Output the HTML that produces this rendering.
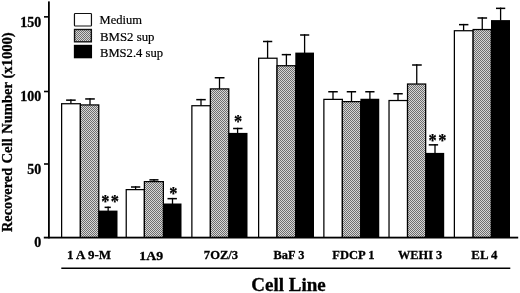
<!DOCTYPE html>
<html><head><meta charset="utf-8"><title>Cell Line</title>
<style>
html,body{margin:0;padding:0;background:#fff;}
svg{display:block;font-family:"Liberation Serif","Times New Roman",serif;}
</style></head><body>
<svg width="520" height="293" viewBox="0 0 520 293">
<defs>
<pattern id="chk" width="2" height="2" patternUnits="userSpaceOnUse">
<rect width="2" height="2" fill="#d6d6d6"/>
<rect x="0" y="0" width="1" height="1" fill="#6e6e6e"/>
<rect x="1" y="1" width="1" height="1" fill="#6e6e6e"/>
</pattern>
</defs>
<rect width="520" height="293" fill="#fff"/>

<rect x="66.10" y="99.40" width="9.60" height="1.50" fill="#000"/>
<rect x="70.25" y="99.40" width="1.30" height="4.20" fill="#000"/>
<rect x="61.00" y="103.10" width="20.00" height="134.50" fill="#000"/>
<rect x="62.25" y="104.35" width="17.50" height="133.25" fill="#fff"/>
<rect x="85.20" y="98.20" width="9.60" height="1.50" fill="#000"/>
<rect x="89.35" y="98.20" width="1.30" height="6.60" fill="#000"/>
<rect x="79.75" y="104.30" width="19.65" height="133.30" fill="#000"/>
<rect x="81.00" y="105.55" width="17.15" height="132.05" fill="url(#chk)"/>
<rect x="104.60" y="206.60" width="6.20" height="1.50" fill="#000"/>
<rect x="107.50" y="206.60" width="1.30" height="4.50" fill="#000"/>
<rect x="98.50" y="210.60" width="19.00" height="27.00" fill="#000"/>
<rect x="131.00" y="186.25" width="9.25" height="1.50" fill="#000"/>
<rect x="134.95" y="186.25" width="1.30" height="3.25" fill="#000"/>
<rect x="125.60" y="189.00" width="19.40" height="48.60" fill="#000"/>
<rect x="126.85" y="190.25" width="16.90" height="47.35" fill="#fff"/>
<rect x="149.40" y="179.10" width="9.10" height="1.50" fill="#000"/>
<rect x="153.35" y="179.10" width="1.30" height="2.40" fill="#000"/>
<rect x="143.75" y="181.00" width="20.25" height="56.60" fill="#000"/>
<rect x="145.00" y="182.25" width="17.75" height="55.35" fill="url(#chk)"/>
<rect x="167.50" y="197.90" width="9.40" height="1.50" fill="#000"/>
<rect x="171.85" y="197.90" width="1.30" height="6.10" fill="#000"/>
<rect x="163.10" y="203.50" width="18.40" height="34.10" fill="#000"/>
<rect x="196.25" y="98.90" width="9.50" height="1.50" fill="#000"/>
<rect x="200.35" y="98.90" width="1.30" height="6.70" fill="#000"/>
<rect x="191.25" y="105.10" width="19.75" height="132.50" fill="#000"/>
<rect x="192.50" y="106.35" width="17.25" height="131.25" fill="#fff"/>
<rect x="214.75" y="77.00" width="9.75" height="1.50" fill="#000"/>
<rect x="218.85" y="77.00" width="1.30" height="11.75" fill="#000"/>
<rect x="209.75" y="88.25" width="19.65" height="149.35" fill="#000"/>
<rect x="211.00" y="89.50" width="17.15" height="148.10" fill="url(#chk)"/>
<rect x="233.10" y="127.75" width="9.40" height="1.50" fill="#000"/>
<rect x="236.95" y="127.75" width="1.30" height="5.65" fill="#000"/>
<rect x="228.50" y="132.90" width="19.00" height="104.70" fill="#000"/>
<rect x="263.00" y="40.75" width="9.25" height="1.50" fill="#000"/>
<rect x="266.95" y="40.75" width="1.30" height="17.35" fill="#000"/>
<rect x="258.00" y="57.60" width="19.65" height="180.00" fill="#000"/>
<rect x="259.25" y="58.85" width="17.15" height="178.75" fill="#fff"/>
<rect x="281.75" y="53.90" width="9.25" height="1.50" fill="#000"/>
<rect x="285.75" y="53.90" width="1.30" height="11.70" fill="#000"/>
<rect x="276.40" y="65.10" width="19.80" height="172.50" fill="#000"/>
<rect x="277.65" y="66.35" width="17.30" height="171.25" fill="url(#chk)"/>
<rect x="300.10" y="34.25" width="9.15" height="1.50" fill="#000"/>
<rect x="303.95" y="34.25" width="1.30" height="18.85" fill="#000"/>
<rect x="295.30" y="52.60" width="18.70" height="185.00" fill="#000"/>
<rect x="328.25" y="91.00" width="9.50" height="1.50" fill="#000"/>
<rect x="332.35" y="91.00" width="1.30" height="8.25" fill="#000"/>
<rect x="323.25" y="98.75" width="19.75" height="138.85" fill="#000"/>
<rect x="324.50" y="100.00" width="17.25" height="137.60" fill="#fff"/>
<rect x="346.75" y="91.00" width="9.35" height="1.50" fill="#000"/>
<rect x="350.85" y="91.00" width="1.30" height="10.50" fill="#000"/>
<rect x="341.75" y="101.00" width="19.55" height="136.60" fill="#000"/>
<rect x="343.00" y="102.25" width="17.05" height="135.35" fill="url(#chk)"/>
<rect x="365.25" y="91.00" width="9.25" height="1.50" fill="#000"/>
<rect x="369.25" y="91.00" width="1.30" height="8.25" fill="#000"/>
<rect x="360.40" y="98.75" width="18.85" height="138.85" fill="#000"/>
<rect x="393.40" y="93.00" width="9.35" height="1.50" fill="#000"/>
<rect x="397.35" y="93.00" width="1.30" height="7.40" fill="#000"/>
<rect x="388.40" y="99.90" width="19.75" height="137.70" fill="#000"/>
<rect x="389.65" y="101.15" width="17.25" height="136.45" fill="#fff"/>
<rect x="412.10" y="64.25" width="9.65" height="1.50" fill="#000"/>
<rect x="416.10" y="64.25" width="1.30" height="19.65" fill="#000"/>
<rect x="406.90" y="83.40" width="19.40" height="154.20" fill="#000"/>
<rect x="408.15" y="84.65" width="16.90" height="152.95" fill="url(#chk)"/>
<rect x="428.75" y="144.10" width="9.35" height="1.50" fill="#000"/>
<rect x="434.35" y="144.10" width="1.30" height="9.30" fill="#000"/>
<rect x="425.40" y="152.90" width="18.80" height="84.70" fill="#000"/>
<rect x="459.00" y="23.90" width="9.40" height="1.50" fill="#000"/>
<rect x="462.95" y="23.90" width="1.30" height="6.70" fill="#000"/>
<rect x="453.75" y="30.10" width="20.00" height="207.50" fill="#000"/>
<rect x="455.00" y="31.35" width="17.50" height="206.25" fill="#fff"/>
<rect x="477.50" y="17.25" width="9.60" height="1.50" fill="#000"/>
<rect x="481.60" y="17.25" width="1.30" height="12.15" fill="#000"/>
<rect x="472.50" y="28.90" width="19.40" height="208.70" fill="#000"/>
<rect x="473.75" y="30.15" width="16.90" height="207.45" fill="url(#chk)"/>
<rect x="496.00" y="7.60" width="9.25" height="1.50" fill="#000"/>
<rect x="499.95" y="7.60" width="1.30" height="13.00" fill="#000"/>
<rect x="491.00" y="20.10" width="19.00" height="217.50" fill="#000"/>
<rect x="48" y="1.4" width="1.8" height="237" fill="#000"/>
<rect x="43.8" y="236.7" width="474.4" height="1.8" fill="#000"/>
<rect x="44" y="16.05" width="5" height="1.6" fill="#000"/>
<rect x="44" y="90.70" width="5" height="1.6" fill="#000"/>
<rect x="44" y="163.20" width="5" height="1.6" fill="#000"/>
<rect x="61.3" y="267.5" width="449" height="1.5" fill="#000"/>
<text x="41.2" y="27.4" font-size="14" font-weight="bold" text-anchor="end" stroke="#000" stroke-width="0.3" >150</text>
<text x="41.2" y="101.0" font-size="14" font-weight="bold" text-anchor="end" stroke="#000" stroke-width="0.3" >100</text>
<text x="41.2" y="173.6" font-size="14" font-weight="bold" text-anchor="end" stroke="#000" stroke-width="0.3" >50</text>
<text x="41.3" y="247.3" font-size="14" font-weight="bold" text-anchor="end" stroke="#000" stroke-width="0.3" >0</text>
<rect x="74.45" y="13.5" width="17" height="12.5" rx="0.8" fill="#fff" stroke="#111" stroke-width="1.2"/>
<rect x="74.55" y="29.5" width="16.8" height="12.3" fill="url(#chk)" stroke="#111" stroke-width="1.4"/>
<rect x="73.85" y="44.8" width="18.2" height="13.5" fill="#000"/>
<text x="99.6" y="23.8" font-size="12.6" font-weight="normal" text-anchor="start" stroke="#000" stroke-width="0.2" textLength="42.4" lengthAdjust="spacingAndGlyphs">Medium</text>
<text x="100" y="40.6" font-size="12.6" font-weight="normal" text-anchor="start" stroke="#000" stroke-width="0.2" textLength="54.5" lengthAdjust="spacingAndGlyphs">BMS2 sup</text>
<text x="100" y="57.4" font-size="12.6" font-weight="normal" text-anchor="start" stroke="#000" stroke-width="0.2" textLength="63" lengthAdjust="spacingAndGlyphs">BMS2.4 sup</text>
<text x="67.1" y="258.6" font-size="12.9" font-weight="bold" text-anchor="start" stroke="#000" stroke-width="0.3" textLength="44.05" lengthAdjust="spacingAndGlyphs">1 A 9-M</text>
<text x="139.35" y="260.1" font-size="13.2" font-weight="bold" text-anchor="start" stroke="#000" stroke-width="0.3" textLength="23.80" lengthAdjust="spacingAndGlyphs">1A9</text>
<text x="203.85" y="258.6" font-size="12.9" font-weight="bold" text-anchor="start" stroke="#000" stroke-width="0.3" textLength="34.30" lengthAdjust="spacingAndGlyphs">7OZ/3</text>
<text x="273.6" y="258.6" font-size="12.9" font-weight="bold" text-anchor="start" stroke="#000" stroke-width="0.3" textLength="30.80" lengthAdjust="spacingAndGlyphs">BaF 3</text>
<text x="332.35" y="258.6" font-size="12.9" font-weight="bold" text-anchor="start" stroke="#000" stroke-width="0.3" textLength="42.05" lengthAdjust="spacingAndGlyphs">FDCP 1</text>
<text x="398.0" y="258.6" font-size="12.9" font-weight="bold" text-anchor="start" stroke="#000" stroke-width="0.3" textLength="44.20" lengthAdjust="spacingAndGlyphs">WEHI 3</text>
<text x="471.35" y="258.6" font-size="12.9" font-weight="bold" text-anchor="start" stroke="#000" stroke-width="0.3" textLength="26.05" lengthAdjust="spacingAndGlyphs">EL 4</text>
<text x="251.3" y="291.2" font-size="18.8" font-weight="bold" text-anchor="start" stroke="#000" stroke-width="0.3" textLength="74.4" lengthAdjust="spacingAndGlyphs">Cell Line</text>
<text transform="translate(11.8,232.00) rotate(-90)" font-size="15" font-weight="bold" stroke="#000" stroke-width="0.3" textLength="64.15" lengthAdjust="spacingAndGlyphs">Recovered</text>
<text transform="translate(11.8,163.50) rotate(-90)" font-size="15" font-weight="bold" stroke="#000" stroke-width="0.3" textLength="25.30" lengthAdjust="spacingAndGlyphs">Cell</text>
<text transform="translate(11.8,133.80) rotate(-90)" font-size="15" font-weight="bold" stroke="#000" stroke-width="0.3" textLength="51.80" lengthAdjust="spacingAndGlyphs">Number</text>
<text transform="translate(11.8,78.55) rotate(-90)" font-size="15" font-weight="bold" stroke="#000" stroke-width="0.3" textLength="46.25" lengthAdjust="spacingAndGlyphs">(x1000)</text>
<text transform="translate(105.45,208.24) scale(0.88,1)" font-size="18.6" font-weight="bold" text-anchor="middle" stroke="#000" stroke-width="0.25">*</text>
<text transform="translate(114.75,208.24) scale(0.88,1)" font-size="18.6" font-weight="bold" text-anchor="middle" stroke="#000" stroke-width="0.25">*</text>
<text transform="translate(173.3,200.09) scale(0.88,1)" font-size="18.6" font-weight="bold" text-anchor="middle" stroke="#000" stroke-width="0.25">*</text>
<text transform="translate(238.1,127.79) scale(0.88,1)" font-size="18.6" font-weight="bold" text-anchor="middle" stroke="#000" stroke-width="0.25">*</text>
<text transform="translate(432.7,146.59) scale(0.88,1)" font-size="18.6" font-weight="bold" text-anchor="middle" stroke="#000" stroke-width="0.25">*</text>
<text transform="translate(442.45,146.59) scale(0.88,1)" font-size="18.6" font-weight="bold" text-anchor="middle" stroke="#000" stroke-width="0.25">*</text>
</svg></body></html>
